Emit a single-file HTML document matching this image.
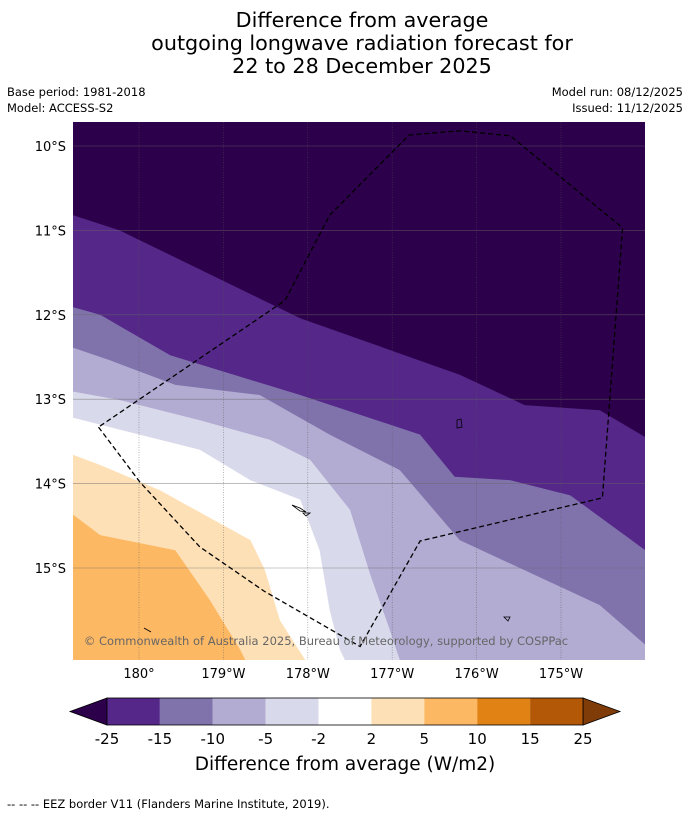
<!DOCTYPE html>
<html><head><meta charset="utf-8"><style>
body{margin:0;background:#fff;font-family:"DejaVu Sans","Liberation Sans",sans-serif;}
#wrap{position:relative;width:690px;height:816px;overflow:hidden;}
</style></head><body>
<div id="wrap">
<svg id="svg" width="690" height="816" xmlns="http://www.w3.org/2000/svg" font-family="DejaVu Sans, Liberation Sans, sans-serif">
<g font-size="20.7" text-anchor="middle" fill="#000">
<text x="362" y="27">Difference from average</text>
<text x="362" y="50">outgoing longwave radiation forecast for</text>
<text x="362" y="73">22 to 28 December 2025</text>
</g>
<g font-size="11.5" fill="#000">
<text x="7" y="96">Base period: 1981-2018</text>
<text x="7" y="112">Model: ACCESS-S2</text>
<text x="683" y="96" text-anchor="end">Model run: 08/12/2025</text>
<text x="683" y="112" text-anchor="end">Issued: 11/12/2025</text>
</g>
<defs><clipPath id="mapclip"><rect x="73" y="122" width="572" height="538"/></clipPath></defs>
<g id="map" clip-path="url(#mapclip)"></g>
<g id="axes"></g>
<text x="326" y="645" text-anchor="middle" font-size="11.5" fill="#666">© Commonwealth of Australia 2025, Bureau of Meteorology, supported by COSPPac</text>
<g id="cbar"></g>
<text x="345" y="770" text-anchor="middle" font-size="18.5" fill="#000">Difference from average (W/m2)</text>
<text x="7" y="808" font-size="11.5" fill="#000">--  --  -- EEZ border V11 (Flanders Marine Institute, 2019).</text>
</svg>
</div>
<script>
const lonTicks = [0, 1, 2, 3, 4, 5];
const lonLabels = ["180°", "179°W", "178°W", "177°W", "176°W", "175°W"];
const latTicks = [10, 11, 12, 13, 14, 15];
const latLabels = ["10°S", "11°S", "12°S", "13°S", "14°S", "15°S"];
const bandColors = ["#2d004b", "#542788", "#8073ac", "#b2abd2", "#d8daeb", "#ffffff", "#fee0b6", "#fdb863"];
const boundary1 = [[-0.78,10.82],[-0.23,11.0],[1.91,12.04],[3.8,12.71],[4.57,13.07],[5.46,13.13],[6.0,13.45]];
const boundary2 = [[-0.78,11.91],[-0.46,12.0],[0.37,12.48],[1.91,12.95],[3.33,13.42],[3.74,13.92],[4.4,13.96],[5.11,14.14],[6.0,14.79]];
const boundary3 = [[-0.78,12.39],[-0.34,12.54],[0.43,12.83],[1.43,12.95],[2.26,13.42],[3.09,13.84],[3.8,14.67],[5.46,15.44],[6.0,15.91]];
const boundary4 = [[-0.78,12.91],[-0.23,13.01],[0.72,13.25],[1.55,13.48],[2.03,13.72],[2.5,14.31],[2.74,15.08],[2.97,15.73],[3.09,16.09]];
const boundary5 = [[-0.78,13.22],[-0.23,13.36],[0.72,13.6],[1.32,13.96],[1.91,14.19],[2.14,14.79],[2.26,15.5],[2.38,15.97],[2.44,16.09]];
const boundary6 = [[-0.78,13.66],[-0.46,13.78],[0.25,14.08],[1.32,14.67],[1.49,15.02],[1.67,15.62],[1.97,16.09]];
const boundary7 = [[-0.78,14.37],[-0.46,14.61],[0.43,14.79],[0.84,15.38],[1.2,15.97],[1.26,16.09]];
const eezLon = [-0.48,0.01,0.72,1.49,2.62,3.33,5.49,5.73,4.4,3.8,3.2,2.26,1.73,-0.48];
const eezLat = [13.33,13.98,14.75,15.28,15.93,14.68,14.17,10.97,9.88,9.82,9.87,10.82,11.83,13.33];

const X0=139, PX=84.4, Y0=146;
const xs = d => X0 + d*PX;
const ys = l => Y0 + (l-10)*PX;
const NS="http://www.w3.org/2000/svg";
function mk(tag, attrs, parent){const e=document.createElementNS(NS,tag);for(const k in attrs)e.setAttribute(k,attrs[k]);parent.appendChild(e);return e;}
const map=document.getElementById('map');
const bounds=[boundary1,boundary2,boundary3,boundary4,boundary5,boundary6,boundary7];
const bandNames=["band-below-25","band-25-15","band-15-10","band-10-5","band-5-2","band-2-2","band-2-5","band-5-10"];
const bg=mk('rect',{x:73,y:122,width:572,height:538,fill:bandColors[0]},map);


bounds.forEach((b,i)=>{
  let d="M"+b.map(p=>xs(p[0]).toFixed(1)+","+ys(p[1]).toFixed(1)).join(" L");
  d+=" L700,"+ys(b[b.length-1][1]).toFixed(1)+" L700,700 L60,700 L60,"+ys(b[0][1]).toFixed(1)+" Z";
  const p=mk('path',{d:d,fill:bandColors[i+1]},map);
  
  
});
lonTicks.forEach(t=>{const l=mk('line',{x1:xs(t),x2:xs(t),y1:122,y2:660,stroke:"#555",'stroke-width':0.6,'stroke-dasharray':'1,1.5',opacity:0.7},map);

});
latTicks.forEach(t=>{const l=mk('line',{x1:73,x2:645,y1:ys(t),y2:ys(t),stroke:"#666",'stroke-width':0.6,opacity:0.7},map);

});
const isl=mk('path',{d:"M292,505 L300,508 L306,512 L300,511 Z M303,513 L310,513 L306,516 Z M457,420 L461,419 L462,427 L457,428 Z M504,617 L510,617 L508,621 Z M144,628 L151,632",fill:"none",stroke:"#000",'stroke-width':0.8},map);


const eez=mk('polyline',{points:eezLon.map((d,i)=>xs(d).toFixed(1)+","+ys(eezLat[i]).toFixed(1)).join(" "),fill:"none",stroke:"#000",'stroke-width':1.3,'stroke-dasharray':'5,3'},map);


const axes=document.getElementById('axes');
lonTicks.forEach((t,i)=>{const tx=mk('text',{x:xs(t),y:678,'text-anchor':'middle','font-size':13,fill:'#000'},axes);tx.textContent=lonLabels[i];

});
latTicks.forEach((t,i)=>{const tx=mk('text',{x:66,y:ys(t)+5,'text-anchor':'end','font-size':13,fill:'#000'},axes);tx.textContent=latLabels[i];

});
const cbLevels=["-25","-15","-10","-5","-2","2","5","10","15","25"];
const cbColors=["#542788","#8073ac","#b2abd2","#d8daeb","#ffffff","#fee0b6","#fdb863","#e08214","#b35806"];
const cb=document.getElementById('cbar');
const cx0=107,cx1=583,cy=698,ch=27,cw=(cx1-cx0)/cbColors.length;
const lt=mk('polygon',{points:`${cx0},${cy} 70,${cy+ch/2} ${cx0},${cy+ch}`,fill:"#2d004b",stroke:"#000",'stroke-width':0.8},cb);


const rt=mk('polygon',{points:`${cx1},${cy} 620,${cy+ch/2} ${cx1},${cy+ch}`,fill:"#7f3b08",stroke:"#000",'stroke-width':0.8},cb);


cbColors.forEach((c,i)=>{const r=mk('rect',{x:cx0+i*cw,y:cy,width:cw,height:ch,fill:c},cb);

});
mk('rect',{x:cx0,y:cy,width:cx1-cx0,height:ch,fill:"none",stroke:"#000",'stroke-width':0.8},cb);
cbLevels.forEach((v,i)=>{const tx=mk('text',{x:cx0+i*cw,y:744,'text-anchor':'middle','font-size':15,fill:'#000'},cb);tx.textContent=v;

});
</script>
</body></html>
